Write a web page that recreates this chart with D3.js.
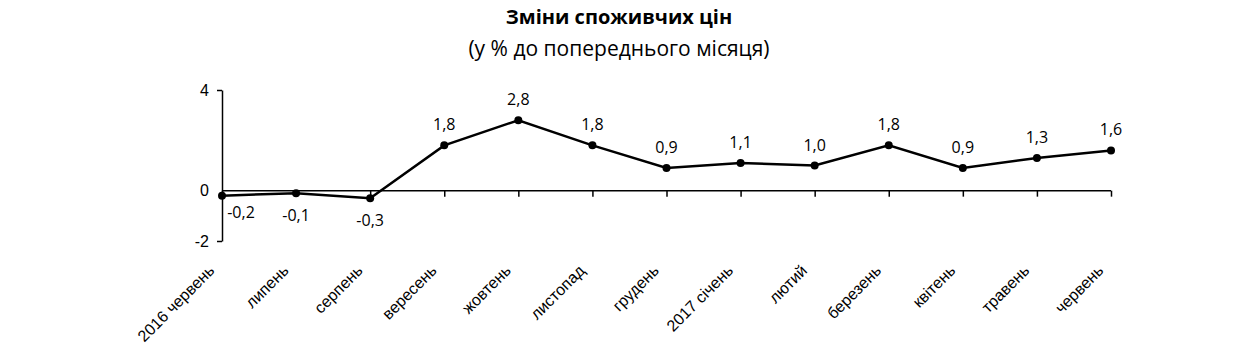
<!DOCTYPE html>
<html>
<head>
<meta charset="utf-8">
<script src="https://cdn.jsdelivr.net/npm/d3@7"></script>
<style>
  body { margin: 0; background: #fff; }
  svg { font-family: "Open Sans", "Noto Sans", sans-serif; }
  .axis path, .axis line { stroke: #000; stroke-width: 1.5; }
  .axis text { font-size: 16px; fill: #000; }
  .title { font-size: 20px; font-weight: bold; }
  .subtitle { font-size: 21px; }
  .val-label { font-size: 16px; }
</style>
</head>
<body>
<div id="chart"></div>
<script>
let totalWidth = 1234
let totalHeight = 363

// data
let months = ["2016 червень", "липень", "серпень", "вересень", "жовтень", "листопад",
    "грудень", "2017 січень", "лютий", "березень", "квітень", "травень", "червень"];
let changes = [-0.2, -0.1, -0.3, 1.8, 2.8, 1.8, 0.9, 1.1, 1.0, 1.8, 0.9, 1.3, 1.6];
let yTicks = [-2, 0, 4];

let svg = d3.select("#chart").append("svg")
    .attr("width", totalWidth)
    .attr("height", totalHeight);

let xScale = d3.scalePoint()
    .domain(months)
    .range([222, 1111]);

let yScale = d3.scaleLinear()
    .domain([-2, 4])
    .range([241, 90]);

let fmt = v => d3.format(".1f")(v).replace(".", ",").replace("−", "-");

// titles
svg.append("text")
    .attr("class", "title")
    .attr("x", 619)
    .attr("y", 24)
    .attr("text-anchor", "middle")
    .text("Зміни споживчих цін");

svg.append("text")
    .attr("class", "subtitle")
    .attr("x", 619)
    .attr("y", 56)
    .attr("text-anchor", "middle")
    .text("(у % до попереднього місяця)");

// y axis
let yAxis = d3.axisLeft(yScale)
    .tickValues(yTicks)
    .tickSize(5)
    .tickSizeOuter(0)
    .tickFormat(d => d);

let yg = svg.append("g")
    .attr("class", "axis y-axis")
    .attr("transform", "translate(" + xScale(months[0]) + ",0)")
    .call(yAxis);

yg.selectAll(".tick text").attr("x", -13);
// no left tick at zero, the x axis sits there
yg.selectAll(".tick line").filter(d => d == 0).remove();

// x axis along zero
let xAxis = d3.axisBottom(xScale)
    .tickSize(6)
    .tickSizeOuter(0);

let xg = svg.append("g")
    .attr("class", "axis x-axis")
    .attr("transform", "translate(0," + yScale(0) + ")")
    .call(xAxis);

xg.select(".domain").attr("d", "M" + xScale(months[0]) + ",0H" + xScale(months[months.length - 1]));

xg.selectAll(".tick text")
    .attr("x", 0)
    .attr("y", 0)
    .attr("dy", "0.35em")
    .attr("transform", "translate(-11,77) rotate(-45)")
    .style("text-anchor", "end");

// line
let line = d3.line()
    .x((d, i) => xScale(months[i]))
    .y(d => yScale(d));

svg.append("path")
    .datum(changes)
    .attr("fill", "none")
    .attr("stroke", "#000")
    .attr("stroke-width", 2.5)
    .attr("d", line);

svg.selectAll("circle.pt")
    .data(changes)
    .enter()
    .append("circle")
    .attr("class", "pt")
    .attr("cx", (d, i) => xScale(months[i]))
    .attr("cy", d => yScale(d))
    .attr("r", 4)
    .attr("fill", "#000");

// value labels
svg.selectAll("text.val-label")
    .data(changes)
    .enter()
    .append("text")
    .attr("class", "val-label")
    .attr("x", (d, i) => xScale(months[i]) + (i == 0 ? 19 : 0))
    .attr("y", (d, i) => d < 0 ? yScale(d) + (i == 0 ? 22 : 28) : yScale(d) - 15)
    .attr("text-anchor", "middle")
    .text(d => fmt(d));
</script>
</body>
</html>
